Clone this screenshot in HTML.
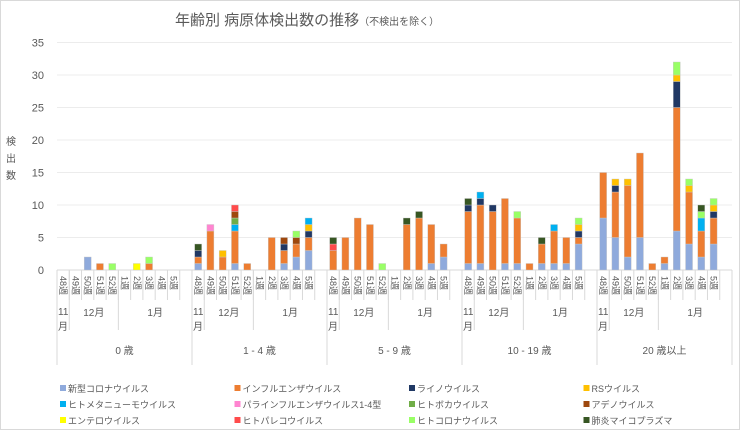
<!DOCTYPE html>
<html><head><meta charset="utf-8"><style>
body{margin:0;background:#fff;font-family:"Liberation Sans","Noto Sans CJK JP",sans-serif;}
svg text{font-family:"Liberation Sans","Noto Sans CJK JP",sans-serif;fill:#595959;}
</style></head><body>
<svg id="c" width="740" height="430" xmlns="http://www.w3.org/2000/svg">
<rect x="0.5" y="0.5" width="739" height="429" fill="#fff" stroke="#d9d9d9"/>
<text x="175" y="25" font-size="15">年齢別 病原体検出数の推移<tspan font-size="10">（不検出を除く）</tspan></text>
<g><text x="6" y="145" font-size="10">検</text><text x="6" y="162" font-size="10">出</text><text x="6" y="179" font-size="10">数</text></g>
<g id="grid"></g><g id="bars"></g><g id="axis"></g><g id="legend"></g>
</svg>
<script>
const ageGroups=["0 歳","1 - 4 歳","5 - 9 歳","10 - 19 歳","20 歳以上"];
const weeks=["48週","49週","50週","51週","52週","1週","2週","3週","4週","5週"];
const seriesNames=["新型コロナウイルス","インフルエンザウイルス","ライノウイルス","RSウイルス","ヒトメタニューモウイルス","パラインフルエンザウイルス1-4型","ヒトボカウイルス","アデノウイルス","エンテロウイルス","ヒトパレコウイルス","ヒトコロナウイルス","肺炎マイコプラズマ"];
const colors=["#8faadc","#ed7d31","#203864","#ffc000","#00b0f0","#ff85d0","#70ad47","#9e480e","#ffff00","#ff4b4b","#99ff66","#375623"];
const yTicks=[0,5,10,15,20,25,30,35];
const sCorona=[0,0,2,0,0,0,0,0,0,0, 1,0,0,1,0,0,0,1,2,3, 0,0,0,0,0,0,0,0,1,2, 1,1,0,1,1,0,1,1,1,4, 8,5,2,5,0,1,6,4,2,4];
const sFlu   =[0,0,0,1,0,0,0,1,0,0, 1,6,2,5,1,0,5,2,2,2, 3,5,8,7,0,0,7,8,6,2, 8,9,9,10,7,1,3,5,4,1, 7,7,11,13,1,1,19,8,4,4];
const sRhino =[0,0,0,0,0,0,0,0,0,0, 1,0,0,0,0,0,0,1,0,1, 0,0,0,0,0,0,0,0,0,0, 1,1,1,0,0,0,0,0,0,1, 0,1,0,0,0,0,4,0,0,1];
const sRS    =[0,0,0,0,0,0,0,0,0,0, 0,0,1,0,0,0,0,0,0,1, 0,0,0,0,0,0,0,0,0,0, 0,0,0,0,0,0,0,0,0,1, 0,1,1,0,0,0,1,1,0,1];
const sMeta  =[0,0,0,0,0,0,0,0,0,0, 0,0,0,1,0,0,0,0,0,1, 0,0,0,0,0,0,0,0,0,0, 0,1,0,0,0,0,0,1,0,0, 0,0,0,0,0,0,0,0,2,0];
const sPara  =[0,0,0,0,0,0,0,0,0,0, 0,1,0,0,0,0,0,0,0,0, 0,0,0,0,0,0,0,0,0,0, 0,0,0,0,0,0,0,0,0,0, 0,0,0,0,0,0,0,0,0,0];
const sBoca  =[0,0,0,0,0,0,0,0,0,0, 0,0,0,1,0,0,0,0,0,0, 0,0,0,0,0,0,0,0,0,0, 0,0,0,0,0,0,0,0,0,0, 0,0,0,0,0,0,0,0,0,0];
const sAdeno =[0,0,0,0,0,0,0,0,0,0, 0,0,0,1,0,0,0,1,1,0, 0,0,0,0,0,0,0,0,0,0, 0,0,0,0,0,0,0,0,0,0, 0,0,0,0,0,0,0,0,0,0];
const sEntero=[0,0,0,0,0,0,1,0,0,0, 0,0,0,0,0,0,0,0,0,0, 0,0,0,0,0,0,0,0,0,0, 0,0,0,0,0,0,0,0,0,0, 0,0,0,0,0,0,0,0,0,0];
const sPareco=[0,0,0,0,0,0,0,0,0,0, 0,0,0,1,0,0,0,0,0,0, 1,0,0,0,0,0,0,0,0,0, 0,0,0,0,0,0,0,0,0,0, 0,0,0,0,0,0,0,0,0,0];
const sHCoV  =[0,0,0,0,1,0,0,1,0,0, 0,0,0,0,0,0,0,0,1,0, 0,0,0,0,1,0,0,0,0,0, 0,0,0,0,1,0,0,0,0,1, 0,0,0,0,0,0,2,1,1,1];
const sMyco  =[0,0,0,0,0,0,0,0,0,0, 1,0,0,0,0,0,0,0,0,0, 1,0,0,0,0,0,1,1,0,0, 1,0,0,0,0,0,1,0,0,0, 0,0,0,0,0,0,0,0,1,0];
const series=[sCorona,sFlu,sRhino,sRS,sMeta,sPara,sBoca,sAdeno,sEntero,sPareco,sHCoV,sMyco];

const NS="http://www.w3.org/2000/svg";
const X0=57,GW=135,CW=GW/11,Y0=270,YT=42.5,YMAX=35;
const y=v=>Y0-(Y0-YT)*v/YMAX;
const xc=(g,i)=>X0+g*GW+(i+0.5)*CW;
function mk(tag,attrs,parent){const e=document.createElementNS(NS,tag);for(const k in attrs)e.setAttribute(k,attrs[k]);parent.appendChild(e);return e;}
const grid=document.getElementById('grid'),bars=document.getElementById('bars'),axis=document.getElementById('axis'),legend=document.getElementById('legend');
yTicks.forEach(t=>{
  const l=mk('line',{x1:X0,x2:X0+5*GW,y1:y(t),y2:y(t),stroke:t===0?'#d9d9d9':'#ececec'},grid);
  
  
  const tx=mk('text',{x:44,y:y(t)+4,'font-size':11,'text-anchor':'end'},grid);
  tx.textContent=t;
  
  
});
for(let g=0;g<5;g++){
  for(let i=0;i<10;i++){
    let acc=0;const idx=g*10+i;
    series.forEach((s,k)=>{
      const v=s[idx];if(!v)return;
      const r=mk('rect',{x:xc(g,i)-3.5,y:y(acc+v),width:7,height:y(acc)-y(acc+v),fill:colors[k],stroke:'#c8c8c8','stroke-width':0.4},bars);
      
      
      acc+=v;
    });
    const wx=xc(g,i)-3;
    const wt=mk('text',{x:wx,y:276,'font-size':9,transform:`rotate(90 ${wx} 276)`},axis);
    wt.textContent=weeks[i];
    
    
  }
  const gx=X0+g*GW;
  [[0,365],[1,330],[5,330],[11,365]].forEach(([c,yb])=>{
    const l=mk('line',{x1:gx+c*CW,x2:gx+c*CW,y1:270,y2:yb,stroke:'#d9d9d9'},axis);
    
    
  });
  for(let c=0;c<=11;c++){const l=mk('line',{x1:gx+c*CW,x2:gx+c*CW,y1:270,y2:300,stroke:'#d9d9d9'},axis);
    
    }
  const m1=mk('text',{x:gx+1,y:315,'font-size':10},axis);m1.textContent='11';
  
  
  const m1b=mk('text',{x:gx+1,y:330,'font-size':10},axis);m1b.textContent='月';
  
  
  const m2=mk('text',{x:gx+3*CW,y:316,'font-size':10,'text-anchor':'middle'},axis);m2.textContent='12月';
  
  
  const m3=mk('text',{x:gx+8*CW,y:316,'font-size':10,'text-anchor':'middle'},axis);m3.textContent='1月';
  
  
  const ag=mk('text',{x:gx+GW/2,y:354,'font-size':10,'text-anchor':'middle'},axis);ag.textContent=ageGroups[g];
  
  
}
seriesNames.forEach((n,k)=>{
  const lx=60+(k%4)*174.5, ly=392+Math.floor(k/4)*16;
  const r=mk('rect',{x:lx,y:ly-7,width:6,height:6,fill:colors[k]},legend);
  
  
  const t=mk('text',{x:lx+8,y:ly,'font-size':9},legend);t.textContent=n;
  
  
});
</script>
</body></html>
